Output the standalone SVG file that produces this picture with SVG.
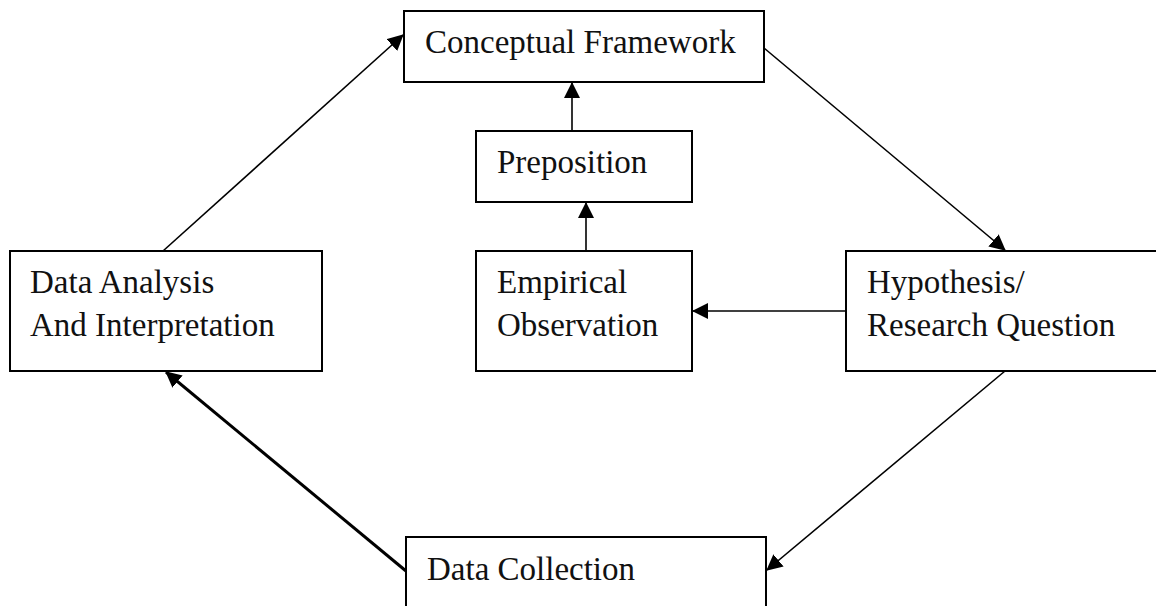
<svg xmlns="http://www.w3.org/2000/svg" width="1156" height="606" viewBox="0 0 1156 606">
  <style>
    .box { fill: #ffffff; stroke: #000000; stroke-width: 2; }
    .lbl { font-family: "Liberation Serif", "Times New Roman", serif; font-size: 33px; fill: #111111; }
    .conn { stroke: #000000; stroke-width: 1.6; fill: none; marker-end: url(#arrow); }
    .thick { stroke-width: 3; }
  </style>
  <defs>
    <marker id="arrow" markerUnits="userSpaceOnUse" markerWidth="16" markerHeight="16" refX="15" refY="8" orient="auto" viewBox="0 0 16 16">
      <path d="M0,0 L16,8 L0,16 Z" fill="#000000"/>
    </marker>
  </defs>
  <rect width="1156" height="606" fill="#ffffff"/>

  <g id="connectors">
    <line class="conn" x1="163" y1="251" x2="403" y2="35"/>
    <line class="conn" x1="764" y1="48" x2="1005" y2="250"/>
    <line class="conn" x1="572" y1="131" x2="572" y2="83"/>
    <line class="conn" x1="586" y1="251" x2="586" y2="203"/>
    <line class="conn" x1="846" y1="311" x2="693" y2="311"/>
    <line class="conn" x1="1005" y1="371" x2="767" y2="570"/>
    <line class="conn thick" x1="406" y1="571" x2="166" y2="372"/>
  </g>

  <g id="conceptual-framework">
    <rect class="box" x="404" y="11" width="360" height="71"/>
    <text class="lbl" x="425" y="53">Conceptual Framework</text>
  </g>
  <g id="preposition">
    <rect class="box" x="476" y="131" width="216" height="71"/>
    <text class="lbl" x="497" y="173">Preposition</text>
  </g>
  <g id="data-analysis">
    <rect class="box" x="10" y="251" width="312" height="120"/>
    <text class="lbl" x="30" y="293">Data Analysis</text>
    <text class="lbl" x="30" y="336">And Interpretation</text>
  </g>
  <g id="empirical-observation">
    <rect class="box" x="476" y="251" width="216" height="120"/>
    <text class="lbl" x="497" y="293">Empirical</text>
    <text class="lbl" x="497" y="336">Observation</text>
  </g>
  <g id="hypothesis">
    <rect class="box" x="846" y="251" width="330" height="120"/>
    <text class="lbl" x="867" y="293">Hypothesis/</text>
    <text class="lbl" x="867" y="336">Research Question</text>
  </g>
  <g id="data-collection">
    <rect class="box" x="406" y="537" width="360" height="100"/>
    <text class="lbl" x="427" y="580">Data Collection</text>
  </g>
</svg>
